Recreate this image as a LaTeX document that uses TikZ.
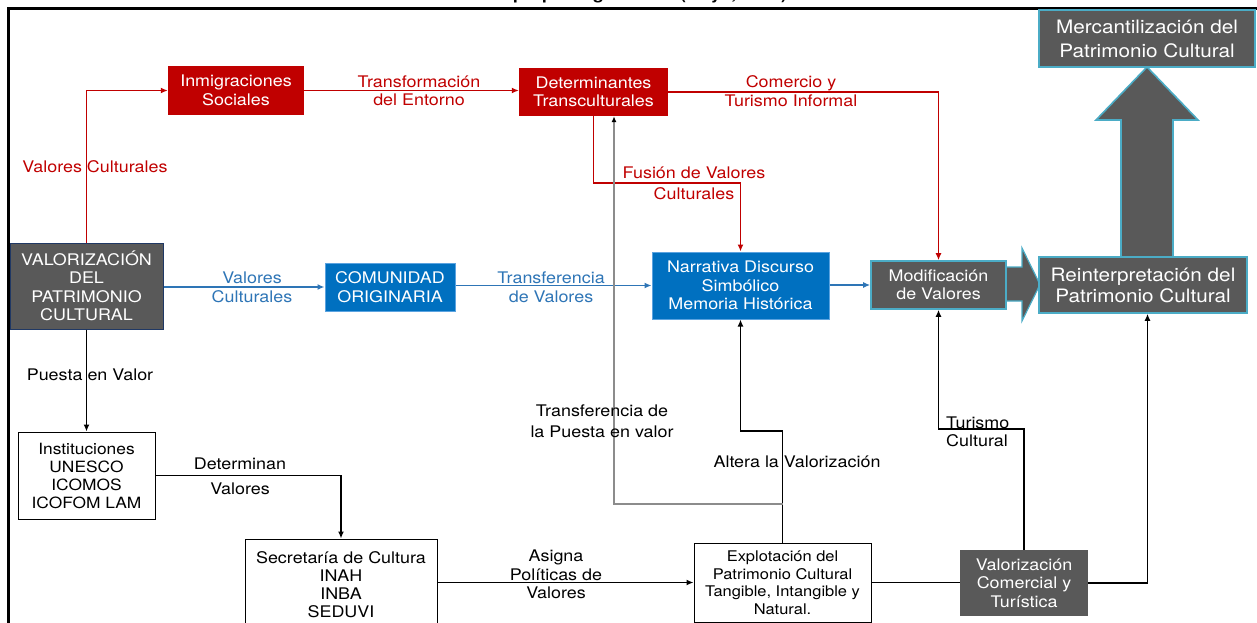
\documentclass[tikz,border=0pt]{standalone}
\usepackage{fontspec}
\setmainfont{TeX Gyre Heros}[FakeStretch=1.12]
\usetikzlibrary{arrows.meta,calc}
\definecolor{rd}{HTML}{C00000}
\definecolor{bl}{HTML}{0070C0}
\definecolor{bltxt}{HTML}{2E75B6}
\definecolor{blbord}{HTML}{5BA3E0}
\definecolor{gr}{HTML}{595959}
\definecolor{grbord}{HTML}{4BACC6}
\definecolor{navy}{HTML}{203864}
\definecolor{gline}{HTML}{8C8C8C}
\begin{document}
\begin{tikzpicture}[x=1pt,y=-1pt,
  txt/.style={font=\fontsize{16}{18.5}\selectfont, align=center, inner sep=0pt},
  txtbig/.style={font=\fontsize{18.5}{21}\selectfont, align=center, inner sep=0pt},
  txtsm/.style={font=\fontsize{14.7}{17.5}\selectfont, align=center, inner sep=0pt},
  rbox/.style={txt, fill=rd, text=white},
  bbox/.style={txt, fill=bl, draw=blbord, line width=1pt, text=white},
  gbox/.style={fill=gr, draw=grbord, line width=1.6pt, text=white},
  wbox/.style={draw=black, line width=1pt, fill=white},
  rline/.style={draw=rd, line width=1.5pt},
  bline/.style={draw=bltxt, line width=1.5pt},
  kline/.style={draw=black, line width=1.7pt},
  gyline/.style={draw=gline, line width=1.2pt},
  tip/.style={-{Latex[length=7pt,width=6pt]}}
]
\useasboundingbox (0,0) rectangle (1257,623);

% frame and cut-off title
\draw[line width=3pt] (8,630) -- (8,8.5) -- (1262,8.5);
\node[font=\bfseries\fontsize{16}{18}\selectfont, anchor=base west, inner sep=0pt] (ttl1) at (513,-0.5) {propia según};
\node[font=\bfseries\fontsize{16}{18}\selectfont, anchor=base west, inner sep=0pt] (ttl2) at (680,-0.5) {(Mayo, 2021)};

% big arrows (drawn first)
\path[gbox] (1121,258) -- (1121,120) -- (1096,120) -- (1147,67) -- (1198,120) -- (1173,120) -- (1173,258) -- cycle;
\path[gbox, line width=1.2pt] (1004,267) -- (1022,267) -- (1022,248) -- (1040,284.5) -- (1022,321) -- (1022,301) -- (1004,301) -- cycle;

% nodes
\node[rbox, minimum width=136pt, minimum height=49pt] (inm) at (236,90.5) {Inmigraciones\\Sociales};
\node[rbox, minimum width=149pt, minimum height=48pt] (det) at (593.5,92) {Determinantes\\Transculturales};
\node[txt, fill=gr, draw=navy, line width=1pt, text=white, minimum width=153pt, minimum height=86pt] (val) at (86.5,286) {VALORIZACIÓN\\DEL\\PATRIMONIO\\CULTURAL};
\node[bbox, minimum width=130pt, minimum height=48pt] (com) at (390,287) {COMUNIDAD\\ORIGINARIA};
\node[bbox, minimum width=177pt, minimum height=67pt] (nar) at (740.5,285.5) {Narrativa Discurso\\Simbólico\\Memoria Histórica};
\node[gbox, txt, minimum width=135pt, minimum height=48pt] (mod) at (938.5,285) {Modificación\\de Valores};
\node[gbox, txtbig, minimum width=208pt, minimum height=56pt] (rein) at (1143,285) {Reinterpretación del\\Patrimonio Cultural};
\node[gbox, txtbig, font=\fontsize{18.5}{24}\selectfont, minimum width=216pt, minimum height=57pt] (merc) at (1147,38.5) {Mercantilización del\\Patrimonio Cultural};
\node[wbox, txt, font=\fontsize{15.5}{18}\selectfont, minimum width=137pt, minimum height=87pt] (inst) at (86.5,475.5) {Instituciones\\UNESCO\\ICOMOS\\ICOFOM LAM};
\node[wbox, txt, font=\fontsize{16}{18}\selectfont, minimum width=192pt, minimum height=91pt] (sec) at (341,584.5) {Secretaría de Cultura\\INAH\\INBA\\SEDUVI};
\node[wbox, txtsm, minimum width=177pt, minimum height=79pt] (exp) at (782.5,582.5) {Explotación del\\Patrimonio Cultural\\Tangible, Intangible y\\Natural.};
\node[txt, fill=gr, text=white, minimum width=128pt, minimum height=66pt] (vcom) at (1024,583) {Valorización\\Comercial y\\Turística};

% red connectors
\draw[rline, tip] (val.north) |- (inm.west);
\draw[rline, tip] (inm.east) -- (inm.east -| det.west);
\coordinate (f1) at (593.5,183);
\draw[rline, tip] (det.south) -- (f1) -| (nar.north);
\draw[rline, tip] (det.east) -| (mod.north);

% blue connectors
\draw[bline, tip] (val.east |- com.west) -- (com.west);
\draw[bline, tip] (com.east |- nar.west) -- (nar.west);
\draw[bline, tip] (nar.east |- mod.west) -- (mod.west);

% black connectors
\draw[kline, tip] (val.south) -- (inst.north);
\draw[kline, tip] (inst.east) -| (sec.north);
\draw[kline, tip] (sec.east |- exp.west) -- (exp.west);
\draw[kline] (exp.east) -- (exp.east -| vcom.west);
\coordinate (a1) at (782.5,431);
\draw[kline, tip] (exp.north) -- (a1) -| (nar.south);
\coordinate (a2) at (1024,429);
\draw[kline, tip] (vcom.north) -- (a2) -| (mod.south);
\coordinate (a3) at (1147.5,583);
\draw[kline, tip] (vcom.east) -- (a3) -- (a3 |- rein.south);
\coordinate (g0) at (782.5,504);
\coordinate (g1) at (614,504);
\draw[gyline, -{Latex[length=6pt,width=5pt,color=black]}] (g0) -- (g1) -- (g1 |- det.south);

% labels
\node[txt, text=rd] (l1) at (95,167) {Valores Culturales};
\node[txt, text=rd] (l2) at (419,91) {Transformación\\del Entorno};
\node[txt, text=rd] (l3) at (791,91) {Comercio y\\Turismo Informal};
\node[txt, text=rd, font=\fontsize{16}{21}\selectfont] (l4) at (694,183.5) {Fusión de Valores\\Culturales};
\node[txt, text=bltxt] (l5) at (252,287.5) {Valores\\Culturales};
\node[txt, text=bltxt] (l6) at (551,287.5) {Transferencia\\de Valores};
\node[txt] (l7) at (90,375) {Puesta en Valor};
\node[txt, font=\fontsize{16}{25}\selectfont] (l8) at (240,476) {Determinan\\Valores};
\node[txt] (l9) at (556,574.5) {Asigna\\Políticas de\\Valores};
\node[txt, font=\fontsize{16}{21}\selectfont] (l10) at (602,421.5) {Transferencia de\\la Puesta en valor};
\node[txt] (l11) at (797,462) {Altera la Valorización};
\node[txt, align=left, anchor=west] (l12) at (946,432) {Turismo\\Cultural};
\end{tikzpicture}
\end{document}
